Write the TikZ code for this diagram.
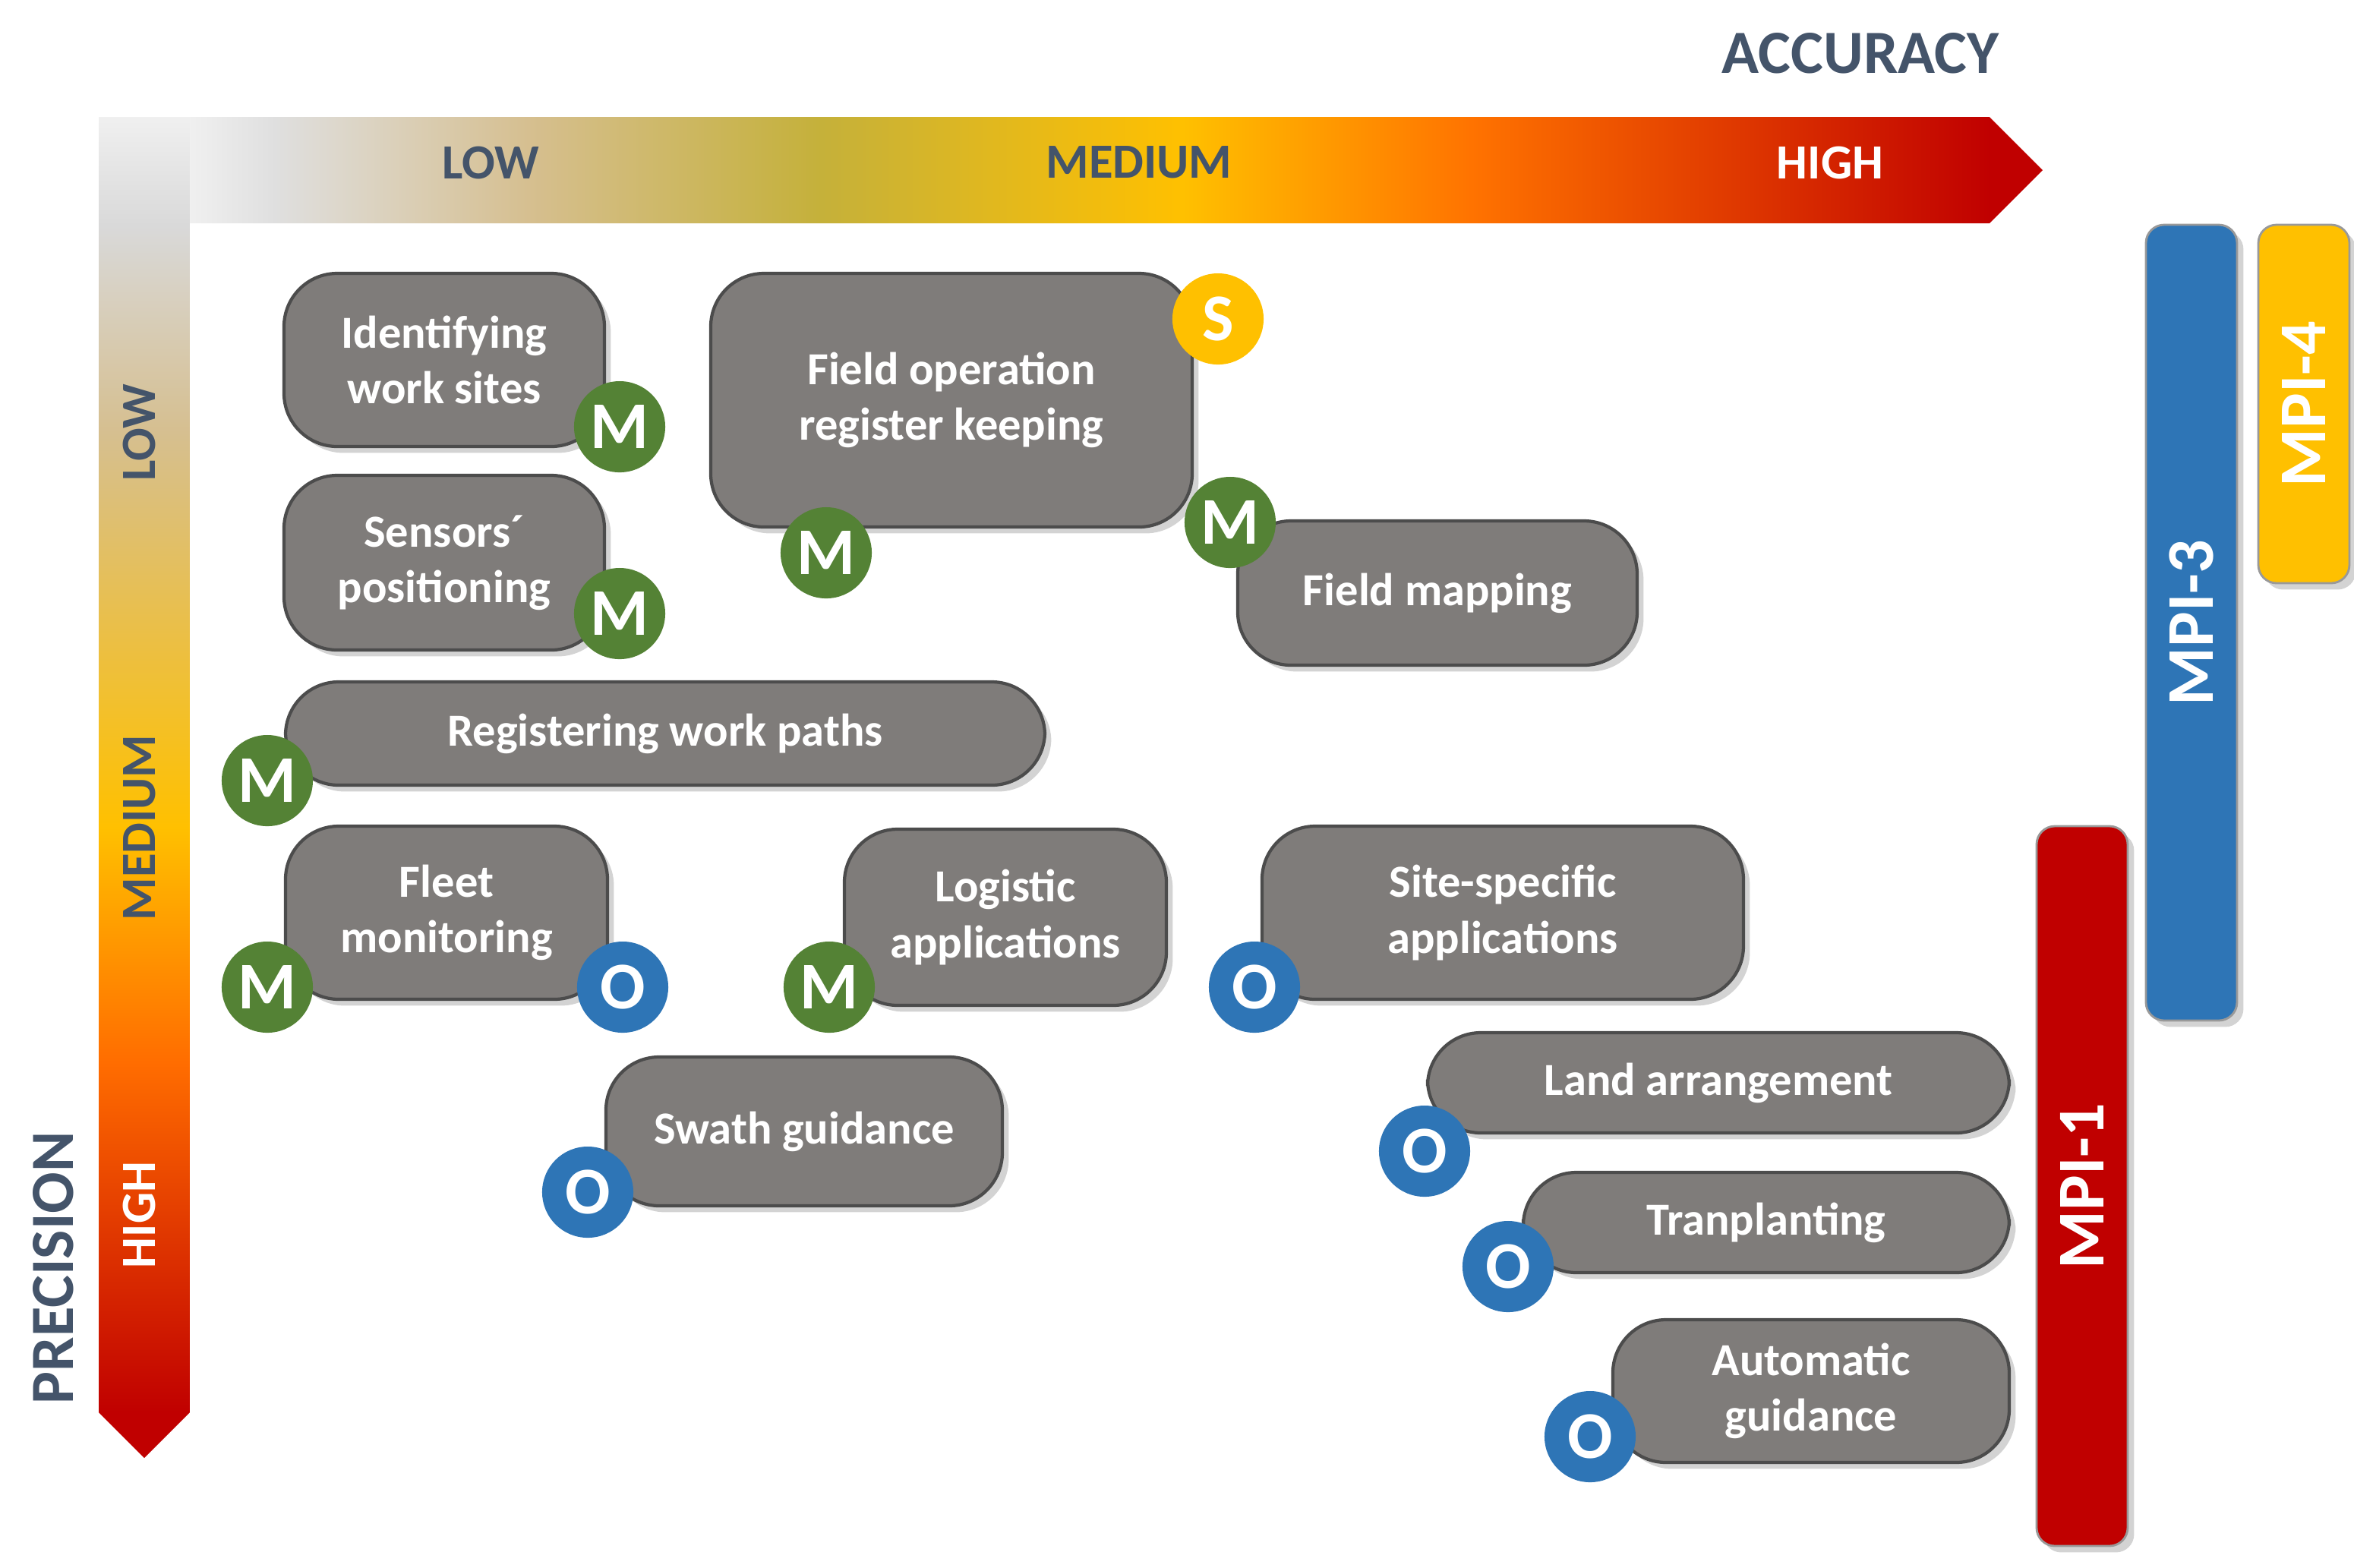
\documentclass[tikz,border=0pt]{standalone}
\usepackage{fontspec}
\setmainfont{Carlito}
\usetikzlibrary{shadows,fit}
\definecolor{boxg}{HTML}{7F7C7A}
\definecolor{mgreen}{HTML}{548235}
\definecolor{oblue}{HTML}{2E75B6}
\definecolor{syel}{HTML}{FFC000}
\definecolor{mred}{HTML}{C00000}
\definecolor{slate}{HTML}{44546A}
\pgfdeclarehorizontalshading{acch}{100bp}{color(0bp)=(gray!12); color(25bp)=(gray!12); color(27.3bp)=(gray!25); color(34.2bp)=(gray!60!yellow!40!brown!60); color(42bp)=(yellow!55!brown!70!gray); color(51.8bp)=(syel); color(59.6bp)=(orange!90!red); color(73.6bp)=(mred); color(100bp)=(mred)}
\pgfdeclareverticalshading{precv}{100bp}{color(0bp)=(mred); color(26.7bp)=(mred); color(39.7bp)=(orange!85!red); color(48.5bp)=(syel); color(63.2bp)=(gray!60!yellow!40!brown!60); color(70.9bp)=(gray!30); color(75bp)=(gray!12); color(100bp)=(gray!12)}
\tikzset{
 box/.style={draw=gray!60!black, line width=0.6pt, fill=boxg, rounded corners=0.35cm, inner sep=0pt, drop shadow={shadow xshift=1.2pt, shadow yshift=-1.2pt, opacity=.35}},
 bt/.style={text=white, font=\fontsize{8.6}{10.4}\selectfont\bfseries, align=center},
 circ/.style={circle, minimum size=0.6cm, inner sep=0pt, text=white, font=\fontsize{12.5}{14}\selectfont\bfseries},
 bar/.style={rounded corners=0.12cm, draw=black!40, inner sep=0pt, drop shadow={shadow xshift=1.2pt, shadow yshift=-1.2pt, opacity=.35}},
 axl/.style={font=\fontsize{9.2}{11}\selectfont\bfseries, text=slate},
 mpi/.style={rotate=90, text=white, font=\fontsize{12.5}{14}\selectfont\bfseries}
}
\begin{document}
\begin{tikzpicture}[x=0.01cm,y=-0.01cm]
\useasboundingbox (0,0) rectangle (1550,1032);
\shade[shading=precv] (65,77) -- (125,77) -- (125,930) -- (95,960) -- (65,930) -- cycle;
\shade[shading=acch] (125,77) -- (1310,77) -- (1345,112) -- (1310,147) -- (125,147) -- cycle;
\node[font=\fontsize{11.5}{14}\selectfont\bfseries, text=slate] (acc) at (1225,35) {ACCURACY};
\node[font=\fontsize{11.5}{14}\selectfont\bfseries, text=slate, rotate=90] (prec) at (35,835) {PRECISION};
\node[axl] (hl) at (323,107) {LOW};
\node[axl] (hm) at (750,107) {MEDIUM};
\node[axl, text=white] (hh) at (1205,107) {HIGH};
\node[axl, rotate=90] (vl) at (92,285) {LOW};
\node[axl, rotate=90] (vm) at (92,545) {MEDIUM};
\node[axl, rotate=90, text=white] (vh) at (92,800) {HIGH};
\node[bar, fill=oblue, fit={(1413,148)(1473,672)}] (b3) {};
\node[mpi] at (b3) {MPI-3};
\node[bar, fill=syel, fit={(1487,148)(1547,384)}] (b4) {};
\node[mpi] at (b4) {MPI-4};
\node[bar, fill=mred, fit={(1341,544)(1401,1018)}] (b1) {};
\node[mpi] at (b1.center) {MPI-1};
\node[box, fit={(187,180)(398,294)}] (n1) {};
\node[bt] at (n1) {Identifying\\work sites};
\node[box, fit={(468,180)(785,347)}] (n2) {};
\node[bt] at (n2) {Field operation\\register keeping};
\node[box, fit={(187,313)(398,428)}] (n3) {};
\node[bt] at (n3) {Sensors´\\positioning};
\node[box, fit={(815,343)(1078,438)}] (n4) {};
\node[bt] at (n4) {Field mapping};
\node[box, fit={(188,449)(688,517)}] (n5) {};
\node[bt] at (n5) {Registering work paths};
\node[box, fit={(188,544)(400,658)}] (n6) {};
\node[bt] at (n6) {Fleet\\monitoring};
\node[box, fit={(556,546)(768,662)}] (n7) {};
\node[bt] at (n7) {Logistic\\applications};
\node[box, fit={(831,544)(1148,658)}] (n8) {};
\node[bt] at (n8) {Site-specific\\applications};
\node[box, fit={(399,696)(660,794)}] (n9) {};
\node[bt] at (n9) {Swath guidance};
\node[box, fit={(940,680)(1323,746)}] (n10) {};
\node[bt] at (n10) {Land arrangement};
\node[box, fit={(1003,772)(1323,838)}] (n11) {};
\node[bt] at (n11) {Tranplanting};
\node[box, fit={(1062,869)(1323,963)}] (n12) {};
\node[bt] at (n12) {Automatic\\guidance};
\node[circ, fill=mgreen] (m1) at (408,281) {M};
\node[circ, fill=mgreen] (m2) at (408,404) {M};
\node[circ, fill=mgreen] (m3) at (544,364) {M};
\node[circ, fill=mgreen] (m4) at (810,344) {M};
\node[circ, fill=mgreen] (m5) at (176,514) {M};
\node[circ, fill=mgreen] (m6) at (176,650) {M};
\node[circ, fill=mgreen] (m7) at (546,650) {M};
\node[circ, fill=oblue] (o1) at (410,650) {O};
\node[circ, fill=oblue] (o2) at (826,650) {O};
\node[circ, fill=oblue] (o3) at (387,785) {O};
\node[circ, fill=oblue] (o4) at (938,758) {O};
\node[circ, fill=oblue] (o5) at (993,834) {O};
\node[circ, fill=oblue] (o6) at (1047,946) {O};
\node[circ, fill=syel] (s1) at (802,210) {S};
\end{tikzpicture}
\end{document}
